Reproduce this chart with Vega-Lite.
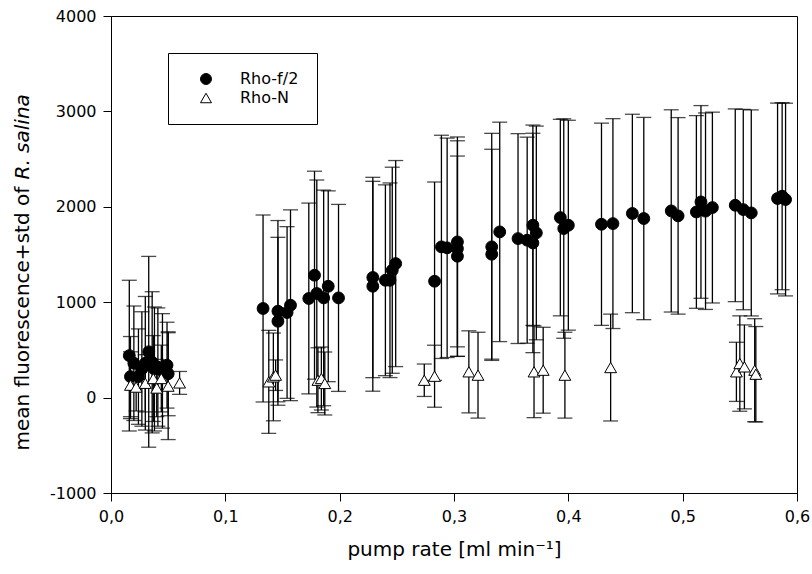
{
  "$schema": "https://vega.github.io/schema/vega-lite/v6.json",
  "width": 686,
  "height": 477,
  "autosize": {"type": "none"},
  "padding": {"left": 111, "top": 16, "right": 15, "bottom": 81},
  "background": "white",
  "config": {
    "view": {"stroke": "black", "strokeWidth": 1},
    "font": "DejaVu Sans",
    "axis": {
      "domainColor": "black", "tickColor": "black", "labelColor": "black", "titleColor": "black",
      "grid": false, "tickSize": 8, "labelPadding": 7, "labelFontSize": 16, "titleFontSize": 20,
      "titleFontWeight": "normal", "labelFont": "DejaVu Sans", "titleFont": "DejaVu Sans"
    },
    "legend": {
      "orient": "none", "legendX": 57, "legendY": 37, "strokeColor": "black", "fillColor": "white",
      "padding": 18, "symbolOffset": 12, "labelOffset": 26, "labelFontSize": 16, "labelFont": "DejaVu Sans",
      "labelColor": "black", "symbolSize": 120, "symbolStrokeWidth": 1, "rowPadding": 3
    }
  },
  "data": {"values": [
    {"s":"Rho-f/2","x":0.016,"y":440,"sd":790},
    {"s":"Rho-f/2","x":0.017,"y":220,"sd":420},
    {"s":"Rho-f/2","x":0.020,"y":360,"sd":600},
    {"s":"Rho-f/2","x":0.024,"y":220,"sd":500},
    {"s":"Rho-f/2","x":0.027,"y":300,"sd":600},
    {"s":"Rho-f/2","x":0.030,"y":360,"sd":700},
    {"s":"Rho-f/2","x":0.033,"y":480,"sd":1000},
    {"s":"Rho-f/2","x":0.036,"y":370,"sd":740},
    {"s":"Rho-f/2","x":0.038,"y":300,"sd":650},
    {"s":"Rho-f/2","x":0.041,"y":320,"sd":620},
    {"s":"Rho-f/2","x":0.045,"y":280,"sd":600},
    {"s":"Rho-f/2","x":0.049,"y":340,"sd":450},
    {"s":"Rho-f/2","x":0.050,"y":250,"sd":440},
    {"s":"Rho-f/2","x":0.133,"y":934,"sd":980},
    {"s":"Rho-f/2","x":0.146,"y":906,"sd":950},
    {"s":"Rho-f/2","x":0.146,"y":800,"sd":880},
    {"s":"Rho-f/2","x":0.154,"y":892,"sd":900},
    {"s":"Rho-f/2","x":0.157,"y":968,"sd":1000},
    {"s":"Rho-f/2","x":0.173,"y":1039,"sd":1000},
    {"s":"Rho-f/2","x":0.178,"y":1283,"sd":1090},
    {"s":"Rho-f/2","x":0.180,"y":1091,"sd":1190},
    {"s":"Rho-f/2","x":0.186,"y":1045,"sd":1130},
    {"s":"Rho-f/2","x":0.190,"y":1167,"sd":1000},
    {"s":"Rho-f/2","x":0.199,"y":1045,"sd":980},
    {"s":"Rho-f/2","x":0.229,"y":1259,"sd":1050},
    {"s":"Rho-f/2","x":0.229,"y":1167,"sd":1100},
    {"s":"Rho-f/2","x":0.240,"y":1230,"sd":1000},
    {"s":"Rho-f/2","x":0.244,"y":1230,"sd":1020},
    {"s":"Rho-f/2","x":0.246,"y":1335,"sd":1080},
    {"s":"Rho-f/2","x":0.249,"y":1405,"sd":1080},
    {"s":"Rho-f/2","x":0.283,"y":1220,"sd":1040},
    {"s":"Rho-f/2","x":0.289,"y":1580,"sd":1170},
    {"s":"Rho-f/2","x":0.294,"y":1570,"sd":1150},
    {"s":"Rho-f/2","x":0.303,"y":1632,"sd":1100},
    {"s":"Rho-f/2","x":0.303,"y":1562,"sd":1130},
    {"s":"Rho-f/2","x":0.303,"y":1482,"sd":1050},
    {"s":"Rho-f/2","x":0.333,"y":1580,"sd":1190},
    {"s":"Rho-f/2","x":0.333,"y":1503,"sd":1100},
    {"s":"Rho-f/2","x":0.340,"y":1737,"sd":1150},
    {"s":"Rho-f/2","x":0.356,"y":1667,"sd":1100},
    {"s":"Rho-f/2","x":0.364,"y":1650,"sd":1080},
    {"s":"Rho-f/2","x":0.369,"y":1807,"sd":1050},
    {"s":"Rho-f/2","x":0.369,"y":1621,"sd":1150},
    {"s":"Rho-f/2","x":0.372,"y":1726,"sd":1120},
    {"s":"Rho-f/2","x":0.393,"y":1887,"sd":1030},
    {"s":"Rho-f/2","x":0.396,"y":1772,"sd":1150},
    {"s":"Rho-f/2","x":0.400,"y":1807,"sd":1100},
    {"s":"Rho-f/2","x":0.429,"y":1817,"sd":1060},
    {"s":"Rho-f/2","x":0.439,"y":1824,"sd":1100},
    {"s":"Rho-f/2","x":0.456,"y":1930,"sd":1040},
    {"s":"Rho-f/2","x":0.466,"y":1877,"sd":1060},
    {"s":"Rho-f/2","x":0.490,"y":1957,"sd":1060},
    {"s":"Rho-f/2","x":0.496,"y":1905,"sd":1030},
    {"s":"Rho-f/2","x":0.512,"y":1946,"sd":1010},
    {"s":"Rho-f/2","x":0.516,"y":2051,"sd":1010},
    {"s":"Rho-f/2","x":0.520,"y":1954,"sd":1030},
    {"s":"Rho-f/2","x":0.526,"y":1992,"sd":1000},
    {"s":"Rho-f/2","x":0.546,"y":2016,"sd":1010},
    {"s":"Rho-f/2","x":0.553,"y":1971,"sd":1050},
    {"s":"Rho-f/2","x":0.560,"y":1936,"sd":1080},
    {"s":"Rho-f/2","x":0.583,"y":2087,"sd":1000},
    {"s":"Rho-f/2","x":0.587,"y":2111,"sd":980},
    {"s":"Rho-f/2","x":0.590,"y":2076,"sd":1010},
    {"s":"Rho-N","x":0.017,"y":130,"sd":350},
    {"s":"Rho-N","x":0.022,"y":110,"sd":250},
    {"s":"Rho-N","x":0.030,"y":150,"sd":300},
    {"s":"Rho-N","x":0.037,"y":200,"sd":450},
    {"s":"Rho-N","x":0.040,"y":100,"sd":300},
    {"s":"Rho-N","x":0.044,"y":200,"sd":350},
    {"s":"Rho-N","x":0.050,"y":120,"sd":560},
    {"s":"Rho-N","x":0.060,"y":154,"sd":120},
    {"s":"Rho-N","x":0.138,"y":165,"sd":540},
    {"s":"Rho-N","x":0.142,"y":217,"sd":460},
    {"s":"Rho-N","x":0.144,"y":235,"sd":160},
    {"s":"Rho-N","x":0.181,"y":182,"sd":340},
    {"s":"Rho-N","x":0.184,"y":200,"sd":330},
    {"s":"Rho-N","x":0.187,"y":148,"sd":330},
    {"s":"Rho-N","x":0.274,"y":182,"sd":170},
    {"s":"Rho-N","x":0.283,"y":224,"sd":325},
    {"s":"Rho-N","x":0.313,"y":270,"sd":430},
    {"s":"Rho-N","x":0.321,"y":235,"sd":450},
    {"s":"Rho-N","x":0.370,"y":270,"sd":480},
    {"s":"Rho-N","x":0.378,"y":287,"sd":450},
    {"s":"Rho-N","x":0.397,"y":235,"sd":450},
    {"s":"Rho-N","x":0.437,"y":315,"sd":560},
    {"s":"Rho-N","x":0.547,"y":270,"sd":310},
    {"s":"Rho-N","x":0.550,"y":357,"sd":500},
    {"s":"Rho-N","x":0.554,"y":322,"sd":440},
    {"s":"Rho-N","x":0.563,"y":287,"sd":540},
    {"s":"Rho-N","x":0.564,"y":245,"sd":500}
  ]},
  "layer": [
    {
      "mark": {"type": "errorbar", "ticks": {"size": 15, "color": "black", "thickness": 1.3}, "rule": {"color": "black", "strokeWidth": 1.3}},
      "encoding": {
        "x": {"field": "x", "type": "quantitative", "scale": {"domain": [0, 0.6], "nice": false},
              "axis": {"values": [0, 0.1, 0.2, 0.3, 0.4, 0.5, 0.6], "labelExpr": "replace(format(datum.value, '.1f'), '.', ',')",
                       "title": "pump rate [ml min⁻¹]", "titleX": 343, "titleY": 62, "titleAlign": "center", "titleBaseline": "alphabetic", "labelFlush": false}},
        "y": {"field": "y", "type": "quantitative", "scale": {"domain": [-1000, 4000], "nice": false, "zero": false},
              "axis": {"orient": "left", "values": [-1000, 0, 1000, 2000, 3000, 4000],
                       "labelExpr": "datum.value < 0 ? '-' + format(-datum.value, 'd') : format(datum.value, 'd')",
                       "title": "mean fluorescence+std of", "titleAngle": -90, "titleX": -83, "titleY": 434, "titleAlign": "left", "titleBaseline": "alphabetic"}},
        "yError": {"field": "sd"}
      }
    },
    {
      "mark": {"type": "point", "filled": true, "strokeWidth": 1, "opacity": 1, "size": 140},
      "encoding": {
        "x": {"field": "x", "type": "quantitative", "scale": {"domain": [0, 0.6], "nice": false},
              "axis": {"values": [0, 0.1, 0.2, 0.3, 0.4, 0.5, 0.6], "labelExpr": "replace(format(datum.value, '.1f'), '.', ',')",
                       "title": "pump rate [ml min⁻¹]", "titleX": 343, "titleY": 62, "titleAlign": "center", "titleBaseline": "alphabetic", "labelFlush": false}},
        "y": {"field": "y", "type": "quantitative", "scale": {"domain": [-1000, 4000], "nice": false, "zero": false},
              "axis": {"orient": "left", "labels": false, "ticks": false, "domain": false, "grid": false,
                       "title": "R. salina", "titleFontStyle": "italic", "titleAngle": -90, "titleX": -83, "titleY": 163, "titleAlign": "left", "titleBaseline": "alphabetic"}},
        "shape": {"field": "s", "type": "nominal", "scale": {"domain": ["Rho-f/2", "Rho-N"], "range": ["circle", "triangle-up"]}, "legend": {"title": null}},
        "fill": {"field": "s", "type": "nominal", "scale": {"domain": ["Rho-f/2", "Rho-N"], "range": ["black", "white"]}, "legend": {"title": null}},
        "stroke": {"field": "s", "type": "nominal", "scale": {"domain": ["Rho-f/2", "Rho-N"], "range": ["black", "black"]}, "legend": {"title": null}}
      }
    }
  ],
  "resolve": {"scale": {"y": "independent"}}
}
